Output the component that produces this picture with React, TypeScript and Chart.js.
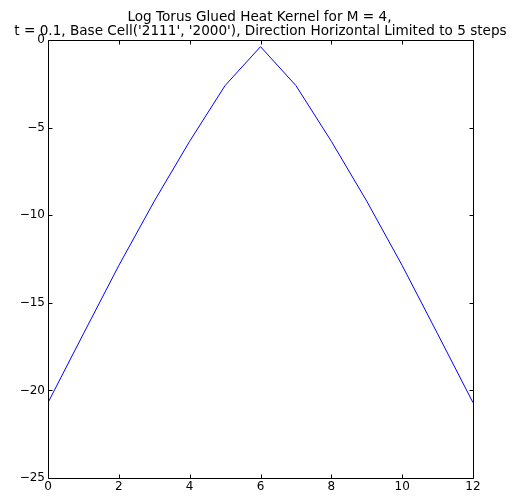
import React, { useEffect, useRef } from "react";
import { Chart, registerables } from "chart.js";

Chart.register(...registerables);

const titleLines = [
  "Log Torus Glued Heat Kernel for M = 4,",
  "t = 0.1, Base Cell('2111', '2000'), Direction Horizontal Limited to 5 steps",
];
const xValues = [0, 1, 2, 3, 4, 5, 6, 7, 8, 9, 10, 11, 12];
const yValues = [-20.7, -16.77, -12.87, -9.2, -5.78, -2.6, -0.38, -2.6, -5.78, -9.2, -12.87, -16.77, -20.7];
const xTicks = [0, 2, 4, 6, 8, 10, 12];
const yTicks = [-25, -20, -15, -10, -5, 0];

const FONT = "DejaVu Sans";
const fmt = (v: number) => String(v).replace("-", "\u2212");

export default function App() {
  const ref = useRef<HTMLCanvasElement>(null);
  useEffect(() => {
    if (!ref.current) return;
    const framePlugin = {
      id: "frame",
      afterDraw(chart: any) {
        const { ctx, chartArea: a, scales } = chart;
        ctx.save();
        ctx.strokeStyle = "#000";
        ctx.lineWidth = 1;
        const L = Math.round(a.left) + 0.5;
        const R = Math.round(a.right) + 0.5;
        const T = Math.round(a.top) + 0.5;
        const B = Math.round(a.bottom) + 0.5;
        ctx.beginPath();
        ctx.rect(L, T, R - L, B - T);
        ctx.stroke();
        ctx.beginPath();
        for (const t of xTicks) {
          const x = Math.round(scales.x.getPixelForValue(t)) + 0.5;
          ctx.moveTo(x, B);
          ctx.lineTo(x, B - 4);
          ctx.moveTo(x, T);
          ctx.lineTo(x, T + 4);
        }
        for (const t of yTicks) {
          const y = Math.round(scales.y.getPixelForValue(t)) + 0.5;
          ctx.moveTo(L, y);
          ctx.lineTo(L + 4, y);
          ctx.moveTo(R, y);
          ctx.lineTo(R - 4, y);
        }
        ctx.stroke();
        ctx.fillStyle = "#000";
        ctx.font = `13.6px '${FONT}'`;
        ctx.textBaseline = "alphabetic";
        ctx.textAlign = "center";
        const cx = (a.left + a.right) / 2;
        ctx.fillText(titleLines[0], cx - 1, 20.5);
        ctx.fillText(titleLines[1], cx, 34.5);
        ctx.restore();
      },
    };
    const chart = new Chart(ref.current, {
      type: "line",
      data: {
        datasets: [
          {
            data: xValues.map((x, i) => ({ x, y: yValues[i] })),
            borderColor: "#0000ff",
            borderWidth: 1,
            pointRadius: 0,
            fill: false,
            tension: 0,
          },
        ],
      },
      options: {
        animation: false,
        responsive: false,
        events: [],
        layout: { padding: { left: 0, top: 40, right: 45, bottom: 0 } },
        plugins: { legend: { display: false }, title: { display: false }, tooltip: { enabled: false } },
        scales: {
          x: {
            type: "linear",
            min: 0,
            max: 12,
            afterBuildTicks: (s: any) => {
              s.ticks = xTicks.map((v) => ({ value: v }));
            },
            afterFit: (s: any) => {
              s.height = 20;
            },
            grid: { display: false, drawTicks: false },
            border: { display: false },
            ticks: {
              color: "#000",
              font: { family: FONT, size: 12 },
              padding: 2,
              maxRotation: 0,
              callback: (v: any) => fmt(Number(v)),
            },
          },
          y: {
            type: "linear",
            min: -25,
            max: 0,
            afterBuildTicks: (s: any) => {
              s.ticks = yTicks.map((v) => ({ value: v }));
            },
            afterFit: (s: any) => {
              s.width = 48;
            },
            grid: { display: false, drawTicks: false },
            border: { display: false },
            ticks: {
              color: "#000",
              font: { family: FONT, size: 12 },
              padding: 3,
              callback: (v: any) => fmt(Number(v)),
            },
          },
        },
      },
      plugins: [framePlugin],
    } as any);
    return () => chart.destroy();
  }, []);
  return (
    <div style={{ position: "fixed", left: 0, top: 0, width: 518, height: 498, background: "#fff" }}>
      <canvas ref={ref} width={518} height={498} />
    </div>
  );
}
